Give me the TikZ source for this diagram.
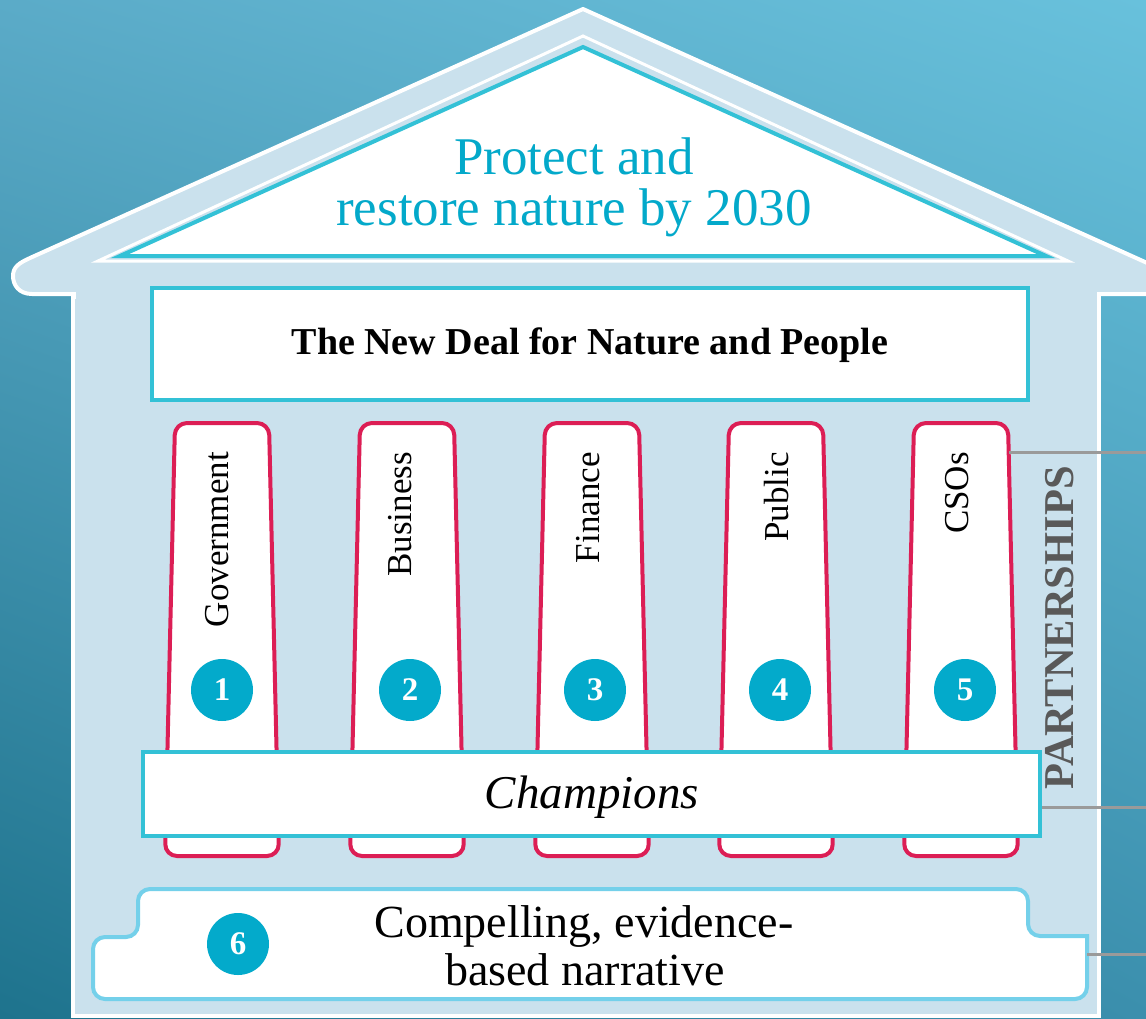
\documentclass[tikz,border=0pt]{standalone}
\usepackage{fontspec}
\setmainfont{Liberation Serif}
\usetikzlibrary{shadings}
\definecolor{bgUL}{HTML}{5BABC8}
\definecolor{bgUR}{HTML}{68C1DC}
\definecolor{bgLL}{HTML}{1E738D}
\definecolor{bgLR}{HTML}{3B8FAD}
\definecolor{paleblue}{HTML}{CAE1ED}
\definecolor{tealline}{HTML}{33C1D6}
\definecolor{titlecyan}{HTML}{03A9CA}
\definecolor{pillarred}{HTML}{DC1E55}
\definecolor{numcyan}{HTML}{03AACB}
\definecolor{baseline}{HTML}{74D0EA}
\definecolor{connGray}{HTML}{9A9A9A}
\definecolor{partGray}{HTML}{595959}
\tikzset{
  houseline/.style={draw=white, line width=4pt, fill=paleblue},
  tealbox/.style={draw=tealline, line width=4pt, fill=white, inner sep=0pt},
  pillarbox/.style={draw=pillarred, line width=4pt, fill=white, rounded corners=12pt},
  numdot/.style={circle, fill=numcyan, minimum size=62pt, inner sep=0pt, text=white,
    font=\fontsize{33}{33}\selectfont\bfseries},
  pillarlabel/.style={rotate=90, anchor=east, inner sep=0pt, font=\fontsize{35}{35}\selectfont},
  connector/.style={draw=connGray, line width=3pt},
}
\begin{document}
\begin{tikzpicture}[x=1pt,y=-1pt]
\useasboundingbox (0,0) rectangle (1146,1018);
\clip (0,0) rectangle (1146,1018);
% background
\shade[upper left=bgUL, upper right=bgUR, lower left=bgLL, lower right=bgLR] (0,0) rectangle (1146,1018);
% house body
\draw[houseline] (73,297) rectangle (1099,1016);
% roof
\draw[houseline, line join=round] (583,9) -- (1185,280) -- (1185,294) -- (32,294)
  .. controls (19,294) and (13,285) .. (13,276)
  .. controls (13,267) and (19,263) .. (30,258) -- cycle;
\fill[paleblue] (75.5,291) rectangle (1097,300);
% gable
\draw[white, line width=3pt] (583,36) -- (1068,261) -- (98,261) -- cycle;
\draw[tealline, line width=4pt, fill=white] (583,47) -- (1046,256) -- (120,256) -- cycle;
\node[anchor=base, text=titlecyan, inner sep=0pt, font=\fontsize{53}{53}\selectfont] (title1) at (574,174) {Protect and};
\node[anchor=base, text=titlecyan, inner sep=0pt, font=\fontsize{53}{53}\selectfont] (title2) at (574,225) {restore nature by 2030};
% new deal box
\node[tealbox, minimum width=876pt, minimum height=112pt] (deal) at (590,344) {};
\node[anchor=base, inner sep=0pt, font=\fontsize{38}{38}\selectfont\bfseries] (dealtext) at (590,354) {The New Deal for Nature and People};
% pillars
\foreach \c/\t/\lx/\cx [count=\i] in {222/Government/217/222, 407/Business/400/410, 592/Finance/588/595, 776/Public/777/780, 961/CSOs/957/965}{
  \draw[pillarbox] (\c-47,423) -- (\c+47,423) -- (\c+57,856) -- (\c-57,856) -- cycle;
  \node[pillarlabel] (lab\i) at (\lx,452) {\t};
  \node[numdot] (num\i) at (\cx,690) {\i};
}
\coordinate (p5r) at (1009,452);
% champions
\node[tealbox, minimum width=897pt, minimum height=84pt] (champ) at (591.5,794) {};
\node[anchor=base, inner sep=0pt, font=\fontsize{47}{47}\selectfont\itshape] (champtext) at (592,808) {Champions};
% base
\draw[draw=baseline, line width=4pt, fill=white]
  (138,920) [rounded corners=12pt] -- (138,889) -- (1028,889) -- (1028,936) [sharp corners] -- (1087,936)
  [rounded corners=12pt] -- (1087,999) -- (93,999) -- (93,937) -- (138,937)
  [sharp corners] -- cycle;
\coordinate (baser) at (1087,954);
\node[numdot] (num6) at (238,944) {6};
\node[anchor=base, inner sep=0pt, font=\fontsize{46}{46}\selectfont] (base1) at (584,937) {Compelling, evidence-};
\node[anchor=base, inner sep=0pt, font=\fontsize{46}{46}\selectfont] (base2) at (585,985) {based narrative};
% partnerships
\node[rotate=90, inner sep=0pt, text=partGray, font=\fontsize{42.5}{42.5}\selectfont\bfseries] (partners) at (1060,628) {PARTNERSHIPS};
% connectors
\coordinate (e1) at (1146,452);
\coordinate (e2) at (1146,807);
\coordinate (e3) at (1146,954);
\draw[connector] (p5r) -- (e1);
\draw[connector] ([yshift=-13pt]champ.east) -- (e2);
\draw[connector] (baser) -- (e3);
\end{tikzpicture}
\end{document}
